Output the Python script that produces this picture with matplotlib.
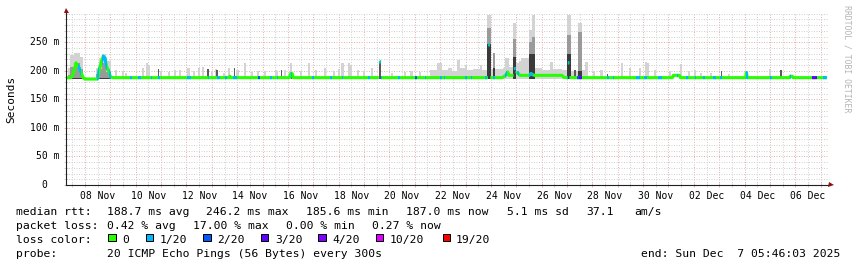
import matplotlib
matplotlib.use('Agg')
import matplotlib.pyplot as plt
from matplotlib.patches import Rectangle
from datetime import datetime, timedelta

W, H, DPI = 857, 267, 100
MONO = 'DejaVu Sans Mono'
NAN = float('nan')

# x values are days counted from 31 Oct 2025 00:00 (8.0 = 08 Nov 00:00)
DAY0 = datetime(2025, 10, 31)
T_END = 37 + (5 + 46 / 60. + 3 / 3600.) / 24   # Sun Dec  7 05:46:03 2025
T_START = T_END - 30

# median rtt (ms), nan where the line breaks (loss colour changes)
median_t = [7.24, 7.45, 7.49, 7.57, 7.645, 7.69, 7.76, 7.84, 7.93, 8.00,
            8.47, 8.52, 8.56, 8.65, 8.72, 8.79, 8.855, 8.96, 9.01, 9.10,
            13.68, 13.715, 13.76,
            16.06, 16.10, 16.17, 16.21,
            19.585, 19.595, 19.60, 19.66, 19.665, 19.67,
            23.885, 23.89, 23.895, 23.965, 23.97, 23.975,
            24.45, 24.52, 24.62, 24.66, 24.72, 24.895, 24.90, 24.905, 24.97,
            24.975, 24.98, 25.05,
            25.15, 25.50, 25.58, 25.66, 25.72, 26.80, 26.86, 26.97,
            27.025, 27.03, 27.035, 27.09, 27.095, 27.10,
            31.15, 31.19, 31.43, 31.47,
            34.04, 34.07, 34.11,
            35.77, 35.80, 35.88, 35.91,
            37.24]
median_ms = [187.5, 188, 190, 200, 214, 211, 206, 198, 188, 185.5,
             185.5, 188, 201, 216, 225.5, 222, 207.5, 196, 189, 188,
             188, 190.5, 188,
             188, 195, 195, 188,
             188, NAN, 216, 215, NAN, 188,
             188, NAN, 246, 245, NAN, 188,
             188, 190, 194, 198, 192, 192, NAN, 204, 204,
             NAN, 196, 197,
             192, 192, 195, 193, 192, 192, 189, 188,
             188, NAN, 214, 214, NAN, 188,
             188, 192, 192, 188,
             188, 197, 188,
             188, 190.5, 190.5, 188,
             188]

# packet loss periods, level indexes loss_labels
loss_t0 = [7.74, 8.48, 8.66, 8.96, 9.77, 10.10, 10.61, 10.89, 12.01, 12.84,
           13.19, 13.52, 13.85, 14.81, 15.29, 15.55, 16.12, 16.94, 17.66,
           18.12, 19.17, 19.59, 20.35, 21.01, 21.42, 21.99, 22.17, 22.98,
           23.22, 23.77, 23.89, 24.09, 24.56, 24.90, 25.02, 25.50, 26.99,
           27.38, 27.47, 28.56, 28.80, 29.70, 30.02, 30.60, 31.32, 31.71,
           32.05, 32.37, 32.77, 33.03, 34.07, 34.99, 35.78, 36.64, 37.10]
loss_t1 = [7.83, 8.56, 8.86, 9.01, 9.84, 10.20, 10.65, 10.96, 12.17, 12.88,
           13.32, 13.59, 13.98, 14.90, 15.36, 15.62, 16.17, 17.03, 17.72,
           18.18, 19.23, 19.70, 20.42, 21.07, 21.46, 22.06, 22.21, 23.04,
           23.26, 23.86, 23.97, 24.16, 24.64, 24.975, 25.12, 25.67, 27.12,
           27.47, 27.58, 28.66, 28.84, 29.86, 30.14, 30.76, 31.39, 31.75,
           32.09, 32.44, 32.87, 33.09, 34.14, 35.07, 35.82, 36.84, 37.24]
loss_level = [1, 1, 1, 1, 1, 1, 1, 1, 1, 1,
              1, 1, 1, 2, 1, 1, 1, 1, 1,
              1, 1, 1, 1, 2, 1, 1, 1, 1,
              1, 1, 1, 1, 1, 1, 1, 1, 1,
              2, 3, 1, 1, 1, 1, 1, 1, 1,
              1, 1, 1, 1, 1, 1, 1, 3, 1]

loss_labels = ['0', '1/20', '2/20', '3/20', '4/20', '10/20', '19/20']
loss_colors = ['#26ff00', '#00b8ff', '#0059ff', '#5e00ff', '#7e00ff',
               '#dd00ff', '#ff0000']

# smoke: single light columns (top of ping spread, ms)
light_t = [9.22, 9.50, 9.60, 10.28, 10.45, 10.53, 11.00, 11.30, 11.55, 11.74,
           12.08, 12.30, 12.50, 12.66, 13.00, 13.18, 13.48, 13.68, 14.01,
           14.31, 14.60, 14.83, 15.10, 15.52, 15.58, 15.90, 16.12, 16.50,
           16.83, 17.10, 17.46, 17.80, 18.00, 18.15, 18.42, 18.48, 18.77,
           19.00, 19.32, 20.10, 20.60, 20.87, 21.20, 27.77, 28.05, 28.36,
           29.18, 29.48, 29.88, 30.10, 30.20, 30.46, 31.05, 31.50, 31.81,
           32.05, 32.27, 32.67, 33.39, 35.00]
light_ms = [201, 199, 196, 204.5, 213, 210, 200, 198, 201, 202,
            204.5, 199, 204.5, 207, 200, 204, 196, 204.5, 201.6,
            213, 198, 199, 200, 201.6, 200, 202, 214, 199,
            213, 201, 204.5, 199, 203, 213, 213, 210, 201.6,
            200, 205, 197, 198, 199, 198, 216, 199, 201.6,
            213, 204.5, 204.5, 216, 214, 201.6, 199, 212, 199,
            201, 196, 196, 195, 204]

# smoke: dark single columns
dark_t = [10.90, 12.85, 13.20, 13.89, 15.75, 16.14, 19.63, 27.31, 28.60,
          33.08, 34.08, 35.43]
dark_ms = [203, 204, 201, 204.5, 201.6, 196, 216, 201.6, 194,
           199, 196, 201.6]

# smoke: dense light band
band_t0 = [21.60, 21.86, 22.06, 22.30, 22.45, 22.65, 22.78, 22.98, 23.04,
           23.30, 23.57, 23.64, 24.00, 24.49, 24.56, 24.72, 24.99, 25.10,
           25.20, 25.72, 26.00, 26.33, 26.45, 26.79, 27.14, 27.58]
band_t1 = [21.86, 22.06, 22.30, 22.45, 22.65, 22.78, 22.98, 23.04, 23.30,
           23.57, 23.64, 23.86, 24.49, 24.56, 24.72, 24.88, 25.10, 25.20,
           25.50, 26.00, 26.33, 26.45, 26.79, 26.99, 27.42, 27.71]
band_ms = [201.6, 213, 202, 205, 200, 219, 204.5, 210, 201.6,
           203, 210, 201.6, 203, 205, 222, 207.5, 213, 218,
           222, 205, 202, 216, 204, 201.6, 200, 201.6]

# smoke: humps and tall spikes (light top, medium, dark core)
spike_t0 = [7.33, 7.41, 7.57, 7.80, 8.43, 8.55, 8.67, 8.83,
            23.86, 24.10, 24.88, 25.50, 25.62, 26.99, 27.42]
spike_t1 = [7.41, 7.57, 7.80, 7.94, 8.55, 8.67, 8.83, 9.02,
            24.00, 24.15, 24.99, 25.62, 25.72, 27.14, 27.58]
spike_hi = [205, 228, 232, 225, 205, 222, 230, 218,
            298, 231, 284, 271, 298, 298, 283]
spike_mid = [192, 206, 214, 204, 194, 204, 214, 198,
             275, 231, 255, 250, 260, 262, 268]
spike_core = [188, 188, 188, 188, 188, 188, 188, 188,
              247, 205, 225, 230, 230, 230, 200]

y_major = [0, 50, 100, 150, 200, 250]
y_labels = ['0', '50 m', '100 m', '150 m', '200 m', '250 m']

rtt_items = ['188.7 ms avg', '246.2 ms max', '185.6 ms min', '187.0 ms now',
             '5.1 ms sd', '37.1', 'am/s']
pl_items = ['0.42 % avg', '17.00 % max', '0.00 % min', '0.27 % now']
probe_text = '20 ICMP Echo Pings (56 Bytes) every 300s'
end_text = 'end: Sun Dec  7 05:46:03 2025'

MGRID = '#e2b4b4'
GRID = '#d2d2d2'
AXIS = '#202020'
ARROW = '#8a1212'
SMOKE_LIGHT = '#d3d3d3'
SMOKE_MID = '#9a9a9a'
SMOKE_DARK = '#3a3a3a'
BASE = 186.0
STEP = 2 / 24.

# plot area in pixels
PX_L, PX_R, PX_T, PX_B = 65.7, 828.0, 13.4, 185.0
PX_PER_DAY = 25.37


def px(x, y):
    return x / W, 1 - y / H


def put(fig, x, y, s, size=8.2, **kw):
    fx, fy = px(x, y)
    fig.text(fx, fy, s, family=MONO, fontsize=size, **kw)


def draw_smoke(ax):
    ax.bar(light_t, [v - BASE for v in light_ms], STEP, bottom=BASE,
           color=SMOKE_LIGHT, lw=0, zorder=1)
    ax.bar(band_t0, [v - BASE for v in band_ms],
           [b - a for a, b in zip(band_t0, band_t1)], bottom=BASE,
           align='edge', color=SMOKE_LIGHT, lw=0, zorder=1)
    widths = [b - a for a, b in zip(spike_t0, spike_t1)]
    for vals, col, z in ((spike_hi, SMOKE_LIGHT, 1.2),
                         (spike_mid, SMOKE_MID, 1.4),
                         (spike_core, SMOKE_DARK, 1.6)):
        ax.bar(spike_t0, [v - BASE for v in vals], widths, bottom=BASE,
               align='edge', color=col, lw=0, zorder=z)
    ax.bar(dark_t, [v - BASE for v in dark_ms], STEP * 0.6, bottom=BASE,
           color='#5a5a5a', lw=0, zorder=1.7)


def draw_median(ax):
    ax.plot(median_t, median_ms, color=loss_colors[0], lw=2.2,
            solid_capstyle='butt', zorder=4)
    for t0, t1, lvl in zip(loss_t0, loss_t1, loss_level):
        line, = ax.plot(median_t, median_ms, color=loss_colors[lvl], lw=2.2,
                        solid_capstyle='butt', zorder=5)
        line.set_clip_path(Rectangle((t0, 0), t1 - t0, 400,
                                     transform=ax.transData))


def setup_axes(ax):
    t_right = T_START + (PX_R - PX_L) / PX_PER_DAY
    ax.set_xlim(T_START, t_right)
    ax.set_ylim(0, 300.5)

    days = list(range(8, 38))
    ax.set_xticks(days)
    ax.set_xticks([d + 0.5 for d in range(7, 37)], minor=True)
    ax.set_yticks(y_major)
    ax.set_yticks([v for v in range(10, 301, 10) if v % 50 or v == 300],
                  minor=True)
    ax.tick_params(which='both', labelbottom=False, labelleft=False,
                   direction='inout', width=0.72)
    ax.tick_params(which='major', length=3, color=MGRID)
    ax.tick_params(which='minor', length=2.5, color=GRID)

    ax.set_axisbelow(True)
    ax.grid(which='major', color=MGRID, lw=0.72, ls=(0, (1, 1.5)))
    ax.grid(which='minor', color=GRID, lw=0.72, ls=(0, (1, 1.5)))

    for side in ('top', 'right'):
        ax.spines[side].set_visible(False)
    for side in ('left', 'bottom'):
        ax.spines[side].set_color(AXIS)
        ax.spines[side].set_linewidth(0.8)
        ax.spines[side].set_zorder(6)

    # arrows at the axis ends
    ax.plot([0], [1 + (PX_T - 10.3) / (PX_B - PX_T)], marker='^',
            ms=3.6, color=ARROW, mew=0, transform=ax.transAxes,
            clip_on=False, zorder=7)
    ax.plot([1 + (831 - PX_R) / (PX_R - PX_L)], [0], marker='>',
            ms=3.6, color=ARROW, mew=0, transform=ax.transAxes,
            clip_on=False, zorder=7)

    for v, lab in zip(y_major, y_labels):
        shift = 6 if ' ' in lab else 18
        ax.annotate(lab, (0, v), xycoords=ax.get_yaxis_transform(),
                    xytext=(-shift, 0), textcoords='offset pixels',
                    ha='right', va='center', family=MONO, fontsize=7)

    for d in range(8, 37, 2):
        lab = (DAY0 + timedelta(days=d)).strftime('%d %b')
        ax.annotate(lab, (d + 0.5, 0), xycoords=ax.get_xaxis_transform(),
                    xytext=(0, -6), textcoords='offset pixels',
                    ha='center', va='top', family=MONO, fontsize=7)


def draw_legend(fig):
    put(fig, 16, 214.7, 'median rtt:', va='baseline')
    for s, x in zip(rtt_items, [107, 206.5, 306.5, 406.5, 506.5, 586.5, 634.5]):
        put(fig, x, 214.7, s, va='baseline')

    put(fig, 16, 228.8, 'packet loss:', va='baseline')
    for s, x in zip(pl_items, [107, 193, 285.5, 371.5]):
        put(fig, x, 228.8, s, va='baseline')

    put(fig, 16, 242.9, 'loss color:', va='baseline')
    box_x = [108.3, 145.7, 203.3, 261.0, 318.3, 376.0, 442.7]
    text_x = [122.6, 160.0, 217.6, 275.3, 332.6, 390.0, 456.0]
    for bx, tx, lab, col in zip(box_x, text_x, loss_labels, loss_colors):
        fx, fy = px(bx, 241.3)
        fig.add_artist(Rectangle((fx, fy), 7.2 / W, 7.4 / H,
                                 transform=fig.transFigure, facecolor=col,
                                 edgecolor='black', lw=0.72))
        put(fig, tx, 242.9, lab, va='baseline')

    put(fig, 16, 257.0, 'probe:', va='baseline')
    put(fig, 107, 257.0, probe_text, va='baseline')
    put(fig, 840.5, 257.0, end_text, va='baseline', ha='right')


def main():
    fig = plt.figure(figsize=(W / DPI, H / DPI), dpi=DPI, facecolor='white')
    ax = fig.add_axes([PX_L / W, 1 - PX_B / H, (PX_R - PX_L) / W,
                       (PX_B - PX_T) / H])
    ax.set_facecolor('white')

    draw_smoke(ax)
    draw_median(ax)
    setup_axes(ax)

    fx, fy = px(10.8, 99.5)
    fig.text(fx, fy, 'Seconds', family=MONO, fontsize=8, rotation=90,
             ha='center', va='center')
    fx, fy = px(847.5, 5)
    fig.text(fx, fy, 'RRDTOOL / TOBI OETIKER', family=MONO, fontsize=5.9,
             rotation=270, ha='center', va='top', color='#b4b4b4')

    draw_legend(fig)
    fig.savefig('out.png', dpi=DPI, facecolor='white')
    plt.close(fig)


if __name__ == '__main__':
    main()
